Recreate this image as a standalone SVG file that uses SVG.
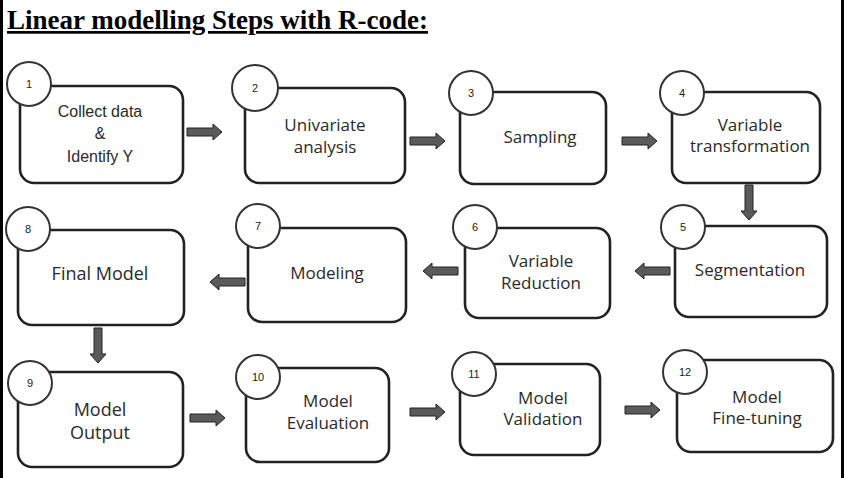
<svg xmlns="http://www.w3.org/2000/svg" width="844" height="478" viewBox="0 0 844 478">
<defs>
<style>
.box{fill:#fff;stroke:#222;stroke-width:2.6}
.num{fill:#fff;stroke:#333;stroke-width:2}
.nt{font-family:"Liberation Sans",Arial,sans-serif;font-size:11px;fill:#222;text-anchor:middle}
.lbl{font-family:"Open Sans","Noto Sans",sans-serif;font-size:17px;fill:#2a2a2a;text-anchor:middle}
.big{font-size:18px}
.lbla{font-family:"Liberation Sans",Arial,sans-serif;font-size:16px;fill:#2a2a2a;text-anchor:middle}
.arr{fill:#5a5a5a;stroke:#222;stroke-width:1}
</style>
<path id="ar" class="arr" d="M0,-4 H26 V-8 L35,0 L26,8 V4 H0 Z"/>
</defs>
<rect width="844" height="478" fill="#fff"/>
<rect x="0" y="0" width="3" height="478" fill="#000"/>
<rect x="841" y="0" width="3" height="478" fill="#000"/>
<text x="7" y="29" font-family="'Liberation Serif','Times New Roman',serif" font-size="27" font-weight="bold" text-decoration="underline" textLength="421" lengthAdjust="spacingAndGlyphs" fill="#000">Linear modelling Steps with R-code:</text>

<g id="connectors">
<use href="#ar" transform="translate(187,132)"/>
<use href="#ar" transform="translate(410,141)"/>
<use href="#ar" transform="translate(622,141)"/>
<use href="#ar" transform="translate(749,185) rotate(90)"/>
<use href="#ar" transform="translate(670,271) rotate(180)"/>
<use href="#ar" transform="translate(458,271) rotate(180)"/>
<use href="#ar" transform="translate(245,282) rotate(180)"/>
<use href="#ar" transform="translate(98,328) rotate(90)"/>
<use href="#ar" transform="translate(190,418)"/>
<use href="#ar" transform="translate(410,412)"/>
<use href="#ar" transform="translate(625,410)"/>
</g>

<g id="n1">
<rect class="box" x="20" y="86" width="163" height="97" rx="14"/>
<circle class="num" cx="29" cy="84" r="22"/>
<text class="nt" x="29" y="88">1</text>
<text class="lbla" x="100" y="117">Collect data</text>
<text class="lbla" x="100" y="139">&amp;</text>
<text class="lbla" x="100" y="162">Identify Y</text>
</g>
<g id="n2">
<rect class="box" x="245" y="88" width="160" height="95" rx="14"/>
<circle class="num" cx="255" cy="88" r="23"/>
<text class="nt" x="255" y="92">2</text>
<text class="lbl" x="325" y="131">Univariate</text>
<text class="lbl" x="325" y="153">analysis</text>
</g>
<g id="n3">
<rect class="box" x="460" y="92" width="146" height="92" rx="14"/>
<circle class="num" cx="471" cy="93" r="22"/>
<text class="nt" x="471" y="97">3</text>
<text class="lbl" x="540" y="143">Sampling</text>
</g>
<g id="n4">
<rect class="box" x="672" y="92" width="148" height="91" rx="14"/>
<circle class="num" cx="682" cy="93" r="22"/>
<text class="nt" x="682" y="97">4</text>
<text class="lbl" x="750" y="131">Variable</text>
<text class="lbl" x="750" y="152">transformation</text>
</g>
<g id="n5">
<rect class="box" x="675" y="226" width="152" height="91" rx="14"/>
<circle class="num" cx="683" cy="227" r="22"/>
<text class="nt" x="683" y="231">5</text>
<text class="lbl" x="750" y="276">Segmentation</text>
</g>
<g id="n6">
<rect class="box" x="465" y="228" width="145" height="90" rx="14"/>
<circle class="num" cx="475" cy="227" r="22"/>
<text class="nt" x="475" y="231">6</text>
<text class="lbl" x="541" y="267">Variable</text>
<text class="lbl" x="541" y="289">Reduction</text>
</g>
<g id="n7">
<rect class="box" x="248" y="228" width="158" height="94" rx="14"/>
<circle class="num" cx="258" cy="226" r="22"/>
<text class="nt" x="258" y="230">7</text>
<text class="lbl" x="327" y="279">Modeling</text>
</g>
<g id="n8">
<rect class="box" x="18" y="230" width="166" height="95" rx="14"/>
<circle class="num" cx="28" cy="229" r="22"/>
<text class="nt" x="28" y="233">8</text>
<text class="lbl big" x="100" y="280">Final Model</text>
</g>
<g id="n9">
<rect class="box" x="18" y="372" width="165" height="95" rx="14"/>
<circle class="num" cx="30" cy="383" r="22"/>
<text class="nt" x="30" y="387">9</text>
<text class="lbl big" x="100" y="416">Model</text>
<text class="lbl big" x="100" y="439">Output</text>
</g>
<g id="n10">
<rect class="box" x="246" y="368" width="143" height="94" rx="14"/>
<circle class="num" cx="258" cy="377" r="22"/>
<text class="nt" x="258" y="381">10</text>
<text class="lbl" x="328" y="407">Model</text>
<text class="lbl" x="328" y="429">Evaluation</text>
</g>
<g id="n11">
<rect class="box" x="460" y="364" width="140" height="91" rx="14"/>
<circle class="num" cx="474" cy="374" r="22"/>
<text class="nt" x="474" y="378">11</text>
<text class="lbl" x="543" y="404">Model</text>
<text class="lbl" x="543" y="425">Validation</text>
</g>
<g id="n12">
<rect class="box" x="677" y="360" width="156" height="92" rx="14"/>
<circle class="num" cx="685" cy="372" r="22"/>
<text class="nt" x="685" y="376">12</text>
<text class="lbl" x="757" y="403">Model</text>
<text class="lbl" x="757" y="424">Fine-tuning</text>
</g>
</svg>
